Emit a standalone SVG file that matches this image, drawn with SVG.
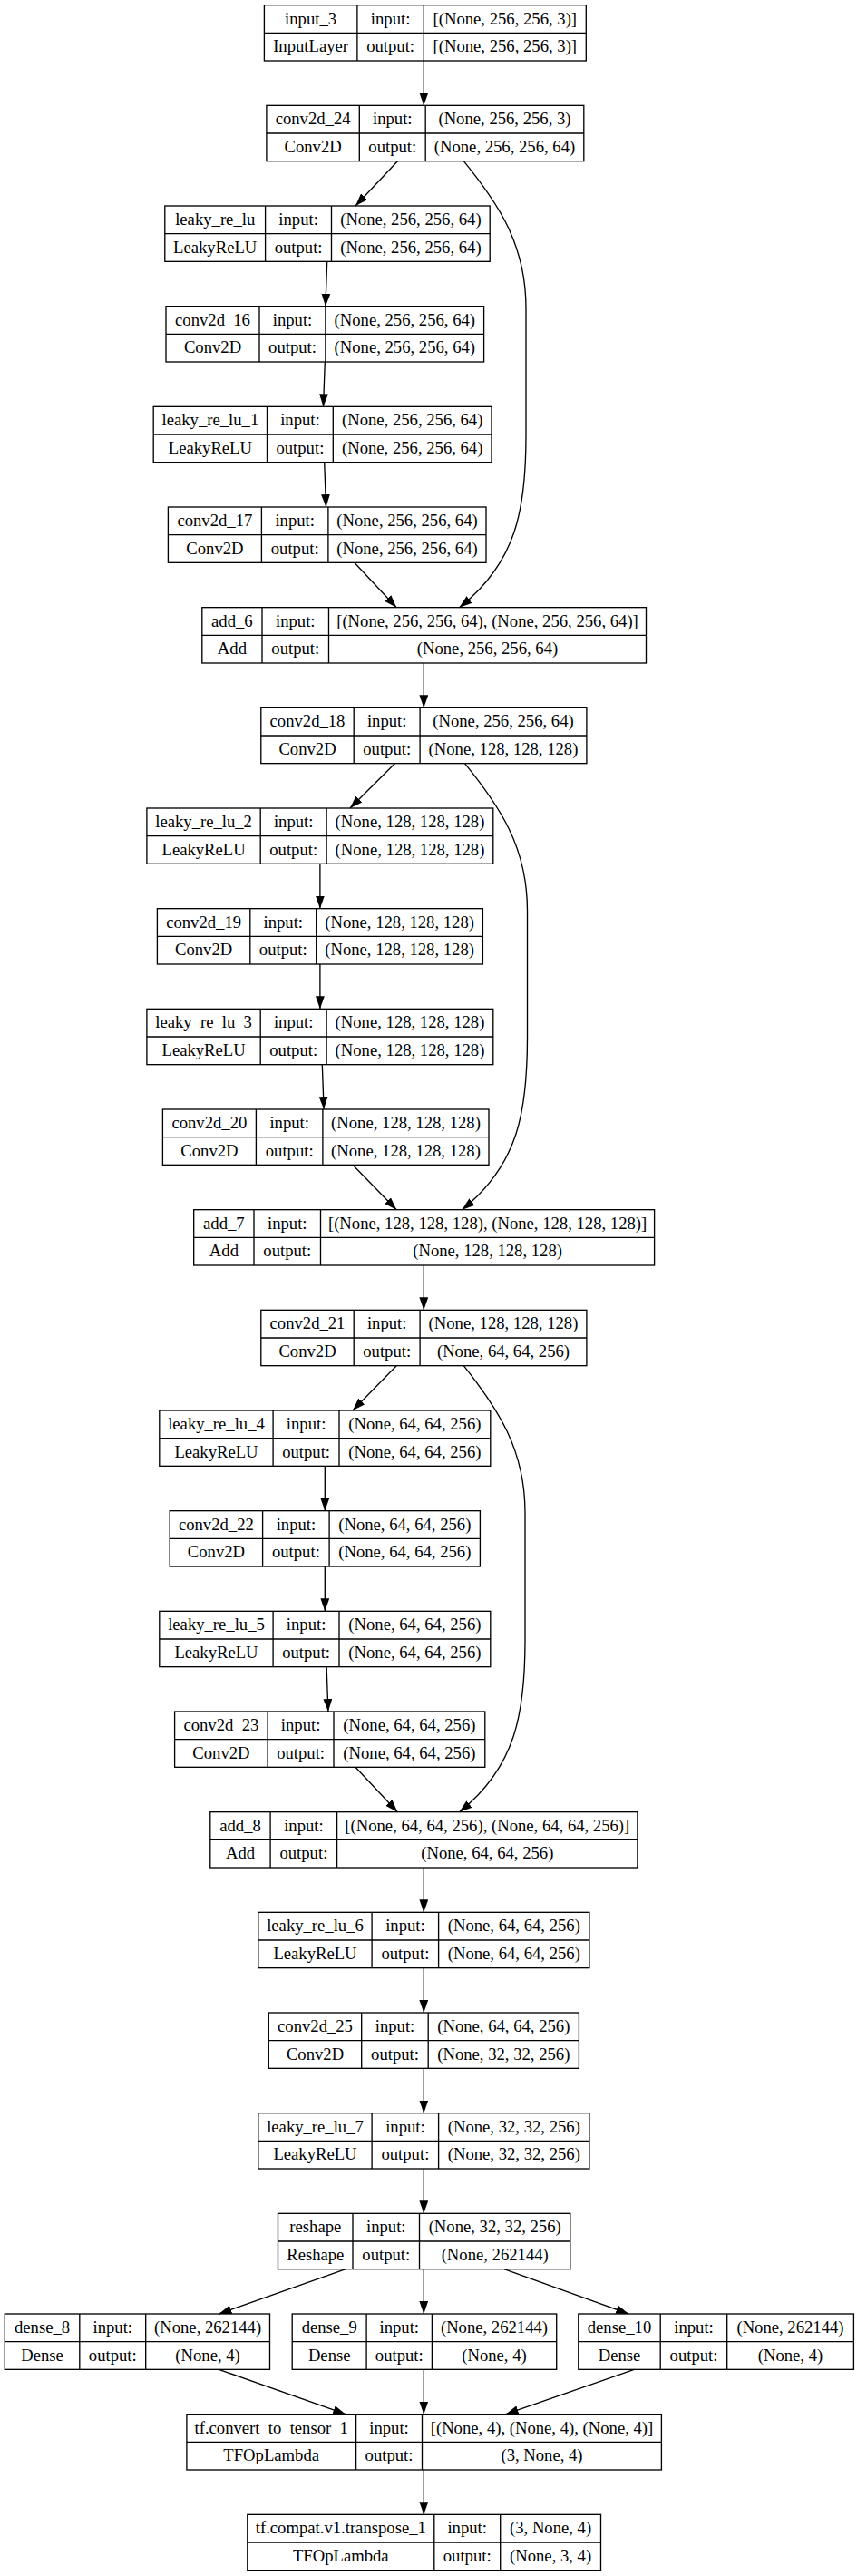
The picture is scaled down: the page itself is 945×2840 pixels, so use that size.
<svg xmlns="http://www.w3.org/2000/svg" width="945" height="2840" viewBox="0 0 945 2840">
<style>
.bx{fill:#fff;stroke:#000;stroke-width:1.33}
.ln{stroke:#000;stroke-width:1.33;fill:none}
text{font-family:"Liberation Serif","Times New Roman",serif;font-size:18.67px;fill:#000;text-anchor:middle}
.e{stroke:#000;stroke-width:1.33;fill:none;marker-end:url(#ah)}
</style>
<defs>
<marker id="ah" markerUnits="userSpaceOnUse" markerWidth="14" markerHeight="10" refX="13.33" refY="4.67" orient="auto" viewBox="0 0 13.33 9.33"><path d="M0,0 L13.33,4.67 L0,9.33 z" fill="#000"/></marker>
</defs>
<rect width="945" height="2840" fill="#fff"/>

<g id="input_3">
<rect class="bx" x="291.4" y="5.67" width="354.9" height="61.33"/>
<path class="ln" d="M291.4,36.33H646.3M393.9,5.67V67M467.3,5.67V67"/>
<text x="342.6" y="26.7">input_3</text><text x="342.6" y="57.4">InputLayer</text>
<text x="430.6" y="26.7">input:</text><text x="430.6" y="57.4">output:</text>
<text x="556.8" y="26.7">[(None, 256, 256, 3)]</text><text x="556.8" y="57.4">[(None, 256, 256, 3)]</text>
</g>

<g id="conv2d_24">
<rect class="bx" x="293.9" y="116.33" width="349.9" height="61.33"/>
<path class="ln" d="M293.9,147H643.8M396.3,116.33V177.67M469.2,116.33V177.67"/>
<text x="345.1" y="137.3">conv2d_24</text><text x="345.1" y="168">Conv2D</text>
<text x="432.8" y="137.3">input:</text><text x="432.8" y="168">output:</text>
<text x="556.5" y="137.3">(None, 256, 256, 3)</text><text x="556.5" y="168">(None, 256, 256, 64)</text>
</g>

<g id="leaky_re_lu">
<rect class="bx" x="181.8" y="227" width="358.4" height="61.33"/>
<path class="ln" d="M181.8,257.67H540.2M292.6,227V288.33M365.5,227V288.33"/>
<text x="237.2" y="248">leaky_re_lu</text><text x="237.2" y="278.7">LeakyReLU</text>
<text x="329.1" y="248">input:</text><text x="329.1" y="278.7">output:</text>
<text x="452.9" y="248">(None, 256, 256, 64)</text><text x="452.9" y="278.7">(None, 256, 256, 64)</text>
</g>

<g id="conv2d_16">
<rect class="bx" x="183" y="337.67" width="350.6" height="61.33"/>
<path class="ln" d="M183,368.33H533.6M286,337.67V399M358.9,337.67V399"/>
<text x="234.5" y="358.7">conv2d_16</text><text x="234.5" y="389.4">Conv2D</text>
<text x="322.5" y="358.7">input:</text><text x="322.5" y="389.4">output:</text>
<text x="446.3" y="358.7">(None, 256, 256, 64)</text><text x="446.3" y="389.4">(None, 256, 256, 64)</text>
</g>

<g id="leaky_re_lu_1">
<rect class="bx" x="169.2" y="448.33" width="372.8" height="61.33"/>
<path class="ln" d="M169.2,479H542M294.5,448.33V509.67M367.3,448.33V509.67"/>
<text x="231.9" y="469.3">leaky_re_lu_1</text><text x="231.9" y="500">LeakyReLU</text>
<text x="330.9" y="469.3">input:</text><text x="330.9" y="500">output:</text>
<text x="454.7" y="469.3">(None, 256, 256, 64)</text><text x="454.7" y="500">(None, 256, 256, 64)</text>
</g>

<g id="conv2d_17">
<rect class="bx" x="185.4" y="559" width="350.6" height="61.33"/>
<path class="ln" d="M185.4,589.67H536M288.4,559V620.33M361.9,559V620.33"/>
<text x="236.9" y="580">conv2d_17</text><text x="236.9" y="610.7">Conv2D</text>
<text x="325.2" y="580">input:</text><text x="325.2" y="610.7">output:</text>
<text x="449" y="580">(None, 256, 256, 64)</text><text x="449" y="610.7">(None, 256, 256, 64)</text>
</g>

<g id="add_6">
<rect class="bx" x="222.8" y="669.67" width="489.7" height="61.33"/>
<path class="ln" d="M222.8,700.33H712.5M289,669.67V731M362.5,669.67V731"/>
<text x="255.9" y="690.7">add_6</text><text x="255.9" y="721.4">Add</text>
<text x="325.8" y="690.7">input:</text><text x="325.8" y="721.4">output:</text>
<text x="537.5" y="690.7">[(None, 256, 256, 64), (None, 256, 256, 64)]</text><text x="537.5" y="721.4">(None, 256, 256, 64)</text>
</g>

<g id="conv2d_18">
<rect class="bx" x="287.8" y="780.33" width="359.1" height="61.33"/>
<path class="ln" d="M287.8,811H646.9M390.2,780.33V841.67M463.1,780.33V841.67"/>
<text x="339" y="801.3">conv2d_18</text><text x="339" y="832">Conv2D</text>
<text x="426.7" y="801.3">input:</text><text x="426.7" y="832">output:</text>
<text x="555" y="801.3">(None, 256, 256, 64)</text><text x="555" y="832">(None, 128, 128, 128)</text>
</g>

<g id="leaky_re_lu_2">
<rect class="bx" x="161.9" y="891" width="381.9" height="61.33"/>
<path class="ln" d="M161.9,921.67H543.8M287.2,891V952.33M360.1,891V952.33"/>
<text x="224.6" y="912">leaky_re_lu_2</text><text x="224.6" y="942.7">LeakyReLU</text>
<text x="323.7" y="912">input:</text><text x="323.7" y="942.7">output:</text>
<text x="452" y="912">(None, 128, 128, 128)</text><text x="452" y="942.7">(None, 128, 128, 128)</text>
</g>

<g id="conv2d_19">
<rect class="bx" x="173.4" y="1001.67" width="359" height="61.33"/>
<path class="ln" d="M173.4,1032.33H532.4M275.8,1001.67V1063M348.7,1001.67V1063"/>
<text x="224.6" y="1022.7">conv2d_19</text><text x="224.6" y="1053.4">Conv2D</text>
<text x="312.3" y="1022.7">input:</text><text x="312.3" y="1053.4">output:</text>
<text x="440.6" y="1022.7">(None, 128, 128, 128)</text><text x="440.6" y="1053.4">(None, 128, 128, 128)</text>
</g>

<g id="leaky_re_lu_3">
<rect class="bx" x="161.9" y="1112.33" width="381.9" height="61.33"/>
<path class="ln" d="M161.9,1143H543.8M287.2,1112.33V1173.67M360.1,1112.33V1173.67"/>
<text x="224.6" y="1133.3">leaky_re_lu_3</text><text x="224.6" y="1164">LeakyReLU</text>
<text x="323.7" y="1133.3">input:</text><text x="323.7" y="1164">output:</text>
<text x="452" y="1133.3">(None, 128, 128, 128)</text><text x="452" y="1164">(None, 128, 128, 128)</text>
</g>

<g id="conv2d_20">
<rect class="bx" x="179.4" y="1223" width="359.6" height="61.33"/>
<path class="ln" d="M179.4,1253.67H539M282.4,1223V1284.33M355.9,1223V1284.33"/>
<text x="230.9" y="1244">conv2d_20</text><text x="230.9" y="1274.7">Conv2D</text>
<text x="319.2" y="1244">input:</text><text x="319.2" y="1274.7">output:</text>
<text x="447.5" y="1244">(None, 128, 128, 128)</text><text x="447.5" y="1274.7">(None, 128, 128, 128)</text>
</g>

<g id="add_7">
<rect class="bx" x="213.7" y="1333.67" width="507.9" height="61.33"/>
<path class="ln" d="M213.7,1364.33H721.6M280,1333.67V1395M353.5,1333.67V1395"/>
<text x="246.9" y="1354.7">add_7</text><text x="246.9" y="1385.4">Add</text>
<text x="316.8" y="1354.7">input:</text><text x="316.8" y="1385.4">output:</text>
<text x="537.6" y="1354.7">[(None, 128, 128, 128), (None, 128, 128, 128)]</text><text x="537.6" y="1385.4">(None, 128, 128, 128)</text>
</g>

<g id="conv2d_21">
<rect class="bx" x="287.8" y="1444.33" width="359.1" height="61.33"/>
<path class="ln" d="M287.8,1475H646.9M390.2,1444.33V1505.67M463.1,1444.33V1505.67"/>
<text x="339" y="1465.3">conv2d_21</text><text x="339" y="1496">Conv2D</text>
<text x="426.7" y="1465.3">input:</text><text x="426.7" y="1496">output:</text>
<text x="555" y="1465.3">(None, 128, 128, 128)</text><text x="555" y="1496">(None, 64, 64, 256)</text>
</g>

<g id="leaky_re_lu_4">
<rect class="bx" x="175.8" y="1555" width="365" height="61.33"/>
<path class="ln" d="M175.8,1585.67H540.8M301.1,1555V1616.33M374,1555V1616.33"/>
<text x="238.5" y="1576">leaky_re_lu_4</text><text x="238.5" y="1606.7">LeakyReLU</text>
<text x="337.6" y="1576">input:</text><text x="337.6" y="1606.7">output:</text>
<text x="457.4" y="1576">(None, 64, 64, 256)</text><text x="457.4" y="1606.7">(None, 64, 64, 256)</text>
</g>

<g id="conv2d_22">
<rect class="bx" x="187.2" y="1665.67" width="342.2" height="61.33"/>
<path class="ln" d="M187.2,1696.33H529.4M289.6,1665.67V1727M363.1,1665.67V1727"/>
<text x="238.4" y="1686.7">conv2d_22</text><text x="238.4" y="1717.4">Conv2D</text>
<text x="326.4" y="1686.7">input:</text><text x="326.4" y="1717.4">output:</text>
<text x="446.3" y="1686.7">(None, 64, 64, 256)</text><text x="446.3" y="1717.4">(None, 64, 64, 256)</text>
</g>

<g id="leaky_re_lu_5">
<rect class="bx" x="175.8" y="1776.33" width="365" height="61.33"/>
<path class="ln" d="M175.8,1807H540.8M301.1,1776.33V1837.67M374,1776.33V1837.67"/>
<text x="238.5" y="1797.3">leaky_re_lu_5</text><text x="238.5" y="1828">LeakyReLU</text>
<text x="337.6" y="1797.3">input:</text><text x="337.6" y="1828">output:</text>
<text x="457.4" y="1797.3">(None, 64, 64, 256)</text><text x="457.4" y="1828">(None, 64, 64, 256)</text>
</g>

<g id="conv2d_23">
<rect class="bx" x="192.6" y="1887" width="342.2" height="61.33"/>
<path class="ln" d="M192.6,1917.67H534.8M295.1,1887V1948.33M368,1887V1948.33"/>
<text x="243.9" y="1908">conv2d_23</text><text x="243.9" y="1938.7">Conv2D</text>
<text x="331.6" y="1908">input:</text><text x="331.6" y="1938.7">output:</text>
<text x="451.4" y="1908">(None, 64, 64, 256)</text><text x="451.4" y="1938.7">(None, 64, 64, 256)</text>
</g>

<g id="add_8">
<rect class="bx" x="231.8" y="1997.67" width="471.1" height="61.33"/>
<path class="ln" d="M231.8,2028.33H702.9M298.1,1997.67V2059M371.6,1997.67V2059"/>
<text x="265" y="2018.7">add_8</text><text x="265" y="2049.4">Add</text>
<text x="334.9" y="2018.7">input:</text><text x="334.9" y="2049.4">output:</text>
<text x="537.3" y="2018.7">[(None, 64, 64, 256), (None, 64, 64, 256)]</text><text x="537.3" y="2049.4">(None, 64, 64, 256)</text>
</g>

<g id="leaky_re_lu_6">
<rect class="bx" x="284.8" y="2108.33" width="365.1" height="61.33"/>
<path class="ln" d="M284.8,2139H649.9M410.1,2108.33V2169.67M483.6,2108.33V2169.67"/>
<text x="347.5" y="2129.3">leaky_re_lu_6</text><text x="347.5" y="2160">LeakyReLU</text>
<text x="446.9" y="2129.3">input:</text><text x="446.9" y="2160">output:</text>
<text x="566.8" y="2129.3">(None, 64, 64, 256)</text><text x="566.8" y="2160">(None, 64, 64, 256)</text>
</g>

<g id="conv2d_25">
<rect class="bx" x="296.3" y="2219" width="342.1" height="61.33"/>
<path class="ln" d="M296.3,2249.67H638.4M398.7,2219V2280.33M472.2,2219V2280.33"/>
<text x="347.5" y="2240">conv2d_25</text><text x="347.5" y="2270.7">Conv2D</text>
<text x="435.5" y="2240">input:</text><text x="435.5" y="2270.7">output:</text>
<text x="555.3" y="2240">(None, 64, 64, 256)</text><text x="555.3" y="2270.7">(None, 32, 32, 256)</text>
</g>

<g id="leaky_re_lu_7">
<rect class="bx" x="284.8" y="2329.67" width="365.1" height="61.33"/>
<path class="ln" d="M284.8,2360.33H649.9M410.1,2329.67V2391M483.6,2329.67V2391"/>
<text x="347.5" y="2350.7">leaky_re_lu_7</text><text x="347.5" y="2381.4">LeakyReLU</text>
<text x="446.9" y="2350.7">input:</text><text x="446.9" y="2381.4">output:</text>
<text x="566.8" y="2350.7">(None, 32, 32, 256)</text><text x="566.8" y="2381.4">(None, 32, 32, 256)</text>
</g>

<g id="reshape">
<rect class="bx" x="306.5" y="2440.33" width="322.3" height="61.33"/>
<path class="ln" d="M306.5,2471H628.8M389,2440.33V2501.67M462.5,2440.33V2501.67"/>
<text x="347.8" y="2461.3">reshape</text><text x="347.8" y="2492">Reshape</text>
<text x="425.8" y="2461.3">input:</text><text x="425.8" y="2492">output:</text>
<text x="545.7" y="2461.3">(None, 32, 32, 256)</text><text x="545.7" y="2492">(None, 262144)</text>
</g>

<g id="dense_8">
<rect class="bx" x="5.3" y="2551" width="292.2" height="61.33"/>
<path class="ln" d="M5.3,2581.67H297.5M87.8,2551V2612.33M160.7,2551V2612.33"/>
<text x="46.6" y="2572">dense_8</text><text x="46.6" y="2602.7">Dense</text>
<text x="124.3" y="2572">input:</text><text x="124.3" y="2602.7">output:</text>
<text x="229.1" y="2572">(None, 262144)</text><text x="229.1" y="2602.7">(None, 4)</text>
</g>

<g id="dense_9">
<rect class="bx" x="322.2" y="2551" width="291.5" height="61.33"/>
<path class="ln" d="M322.2,2581.67H613.7M404.1,2551V2612.33M476.4,2551V2612.33"/>
<text x="363.2" y="2572">dense_9</text><text x="363.2" y="2602.7">Dense</text>
<text x="440.3" y="2572">input:</text><text x="440.3" y="2602.7">output:</text>
<text x="545" y="2572">(None, 262144)</text><text x="545" y="2602.7">(None, 4)</text>
</g>

<g id="dense_10">
<rect class="bx" x="637.8" y="2551" width="303.6" height="61.33"/>
<path class="ln" d="M637.8,2581.67H941.4M728.2,2551V2612.33M801.7,2551V2612.33"/>
<text x="683" y="2572">dense_10</text><text x="683" y="2602.7">Dense</text>
<text x="765" y="2572">input:</text><text x="765" y="2602.7">output:</text>
<text x="871.5" y="2572">(None, 262144)</text><text x="871.5" y="2602.7">(None, 4)</text>
</g>

<g id="tf.convert_to_tensor_1">
<rect class="bx" x="205.9" y="2661.67" width="523.5" height="61.33"/>
<path class="ln" d="M205.9,2692.33H729.4M392.6,2661.67V2723M465.5,2661.67V2723"/>
<text x="299.2" y="2682.7">tf.convert_to_tensor_1</text><text x="299.2" y="2713.4">TFOpLambda</text>
<text x="429" y="2682.7">input:</text><text x="429" y="2713.4">output:</text>
<text x="597.5" y="2682.7">[(None, 4), (None, 4), (None, 4)]</text><text x="597.5" y="2713.4">(3, None, 4)</text>
</g>

<g id="tf.compat.v1.transpose_1">
<rect class="bx" x="272.8" y="2772.33" width="389.7" height="61.33"/>
<path class="ln" d="M272.8,2803H662.5M478.8,2772.33V2833.67M551.7,2772.33V2833.67"/>
<text x="375.8" y="2793.3">tf.compat.v1.transpose_1</text><text x="375.8" y="2824">TFOpLambda</text>
<text x="515.2" y="2793.3">input:</text><text x="515.2" y="2824">output:</text>
<text x="607.1" y="2793.3">(3, None, 4)</text><text x="607.1" y="2824">(None, 3, 4)</text>
</g>

<g id="connectors">
<path class="e" d="M467.3,67V116.33"/>
<path class="e" d="M438.4,177.67L392,227"/>
<path class="e" d="M360.7,288.33L358.9,337.67"/>
<path class="e" d="M358.3,399L356.5,448.33"/>
<path class="e" d="M357.7,509.67L359.5,559"/>
<path class="e" d="M390.8,620.33L437.2,669.67"/>
<path class="e" d="M511.3,177.67C550,225 580,270 580,340L580,480C580,560 570,620 506.5,669.67"/>
<path class="e" d="M467.3,731V780.33"/>
<path class="e" d="M435.4,841.67L386,891"/>
<path class="e" d="M352.9,952.33V1001.67"/>
<path class="e" d="M352.9,1063V1112.33"/>
<path class="e" d="M355.3,1173.67L357.1,1223"/>
<path class="e" d="M389,1284.33L437.2,1333.67"/>
<path class="e" d="M512.5,841.67C551,889 581.5,934 581.5,1004L581.5,1144C581.5,1224 572,1284 509.5,1333.67"/>
<path class="e" d="M467.3,1395V1444.33"/>
<path class="e" d="M437.2,1505.67L389,1555"/>
<path class="e" d="M358.3,1616.33V1665.67"/>
<path class="e" d="M358.3,1727V1776.33"/>
<path class="e" d="M360.1,1837.67L361.9,1887"/>
<path class="e" d="M392,1948.33L438.4,1997.67"/>
<path class="e" d="M511.3,1505.67C549,1553 579,1598 579,1668L579,1808C579,1888 569,1948 506.5,1997.67"/>
<path class="e" d="M467.3,2059V2108.33"/>
<path class="e" d="M467.3,2169.67V2219"/>
<path class="e" d="M467.3,2280.33V2329.67"/>
<path class="e" d="M467.3,2391V2440.33"/>
<path class="e" d="M381.2,2501.67L241.4,2551"/>
<path class="e" d="M467.3,2501.67V2551"/>
<path class="e" d="M555.9,2501.67L693.2,2551"/>
<path class="e" d="M241.4,2612.33L381.2,2661.67"/>
<path class="e" d="M467.3,2612.33V2661.67"/>
<path class="e" d="M699.3,2612.33L557.7,2661.67"/>
<path class="e" d="M467.3,2723V2772.33"/>
</g>
</svg>
